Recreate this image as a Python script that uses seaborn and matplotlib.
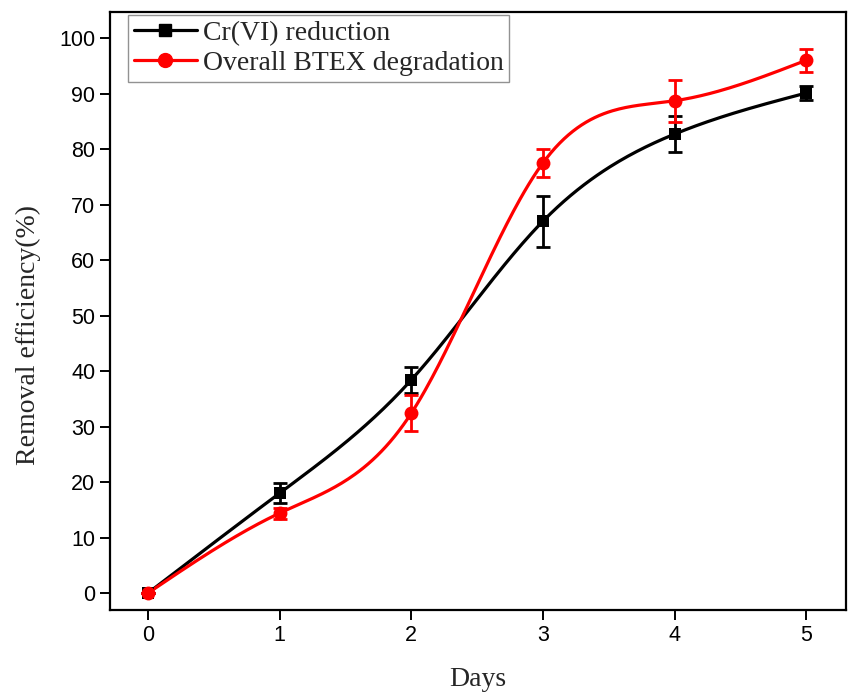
import numpy as np
import pandas as pd
import matplotlib
matplotlib.use("Agg")
import matplotlib.pyplot as plt
from matplotlib.lines import Line2D
import seaborn as sns

days = [0, 1, 2, 3, 4, 5]
cr_mean = [0, 18.0, 38.4, 67.0, 82.7, 90.1]
cr_err = [0, 1.8, 2.4, 4.6, 3.3, 1.2]
btex_mean = [0, 14.4, 32.4, 77.5, 88.7, 96.0]
btex_err = [0, 1.0, 3.2, 2.6, 3.8, 2.1]
labels = ["Cr(VI) reduction", "Overall BTEX degradation"]
colors = ["black", "red"]
markers = ["s", "o"]


def smooth(x, y, n=300):
    # natural cubic spline through the points (like Origin's spline connect)
    x = np.asarray(x, float)
    y = np.asarray(y, float)
    h = np.diff(x)
    m = len(x)
    A = np.zeros((m, m))
    b = np.zeros(m)
    A[0, 0] = A[-1, -1] = 1
    for i in range(1, m - 1):
        A[i, i - 1] = h[i - 1]
        A[i, i] = 2 * (h[i - 1] + h[i])
        A[i, i + 1] = h[i]
        b[i] = 6 * ((y[i + 1] - y[i]) / h[i] - (y[i] - y[i - 1]) / h[i - 1])
    M = np.linalg.solve(A, b)
    xs = np.linspace(x[0], x[-1], n)
    idx = np.clip(np.searchsorted(x, xs) - 1, 0, m - 2)
    t0 = x[idx + 1] - xs
    t1 = xs - x[idx]
    hi = h[idx]
    ys = (M[idx] * t0**3 + M[idx + 1] * t1**3) / (6 * hi) \
        + (y[idx] / hi - M[idx] * hi / 6) * t0 \
        + (y[idx + 1] / hi - M[idx + 1] * hi / 6) * t1
    return xs, ys


sns.set_theme(style="ticks")
plt.rcParams["font.family"] = ["Liberation Serif", "DejaVu Serif"]

fig = plt.figure(figsize=(8.48, 6.97), dpi=100)
ax = fig.add_axes([0.1303, 0.1248, 0.8670, 0.858])

series = [(cr_mean, cr_err), (btex_mean, btex_err)]
for (mean, err), lab, col, mk in zip(series, labels, colors, markers):
    xs, ys = smooth(days, mean)
    curve = pd.DataFrame({"x": xs, "y": ys})
    sns.lineplot(data=curve, x="x", y="y", ax=ax, color=col, linewidth=2.3, zorder=2)
    ax.errorbar(days, mean, yerr=err, fmt="none", ecolor=col, elinewidth=2,
                capsize=4.7, capthick=2, zorder=3)
    pts = pd.DataFrame({"x": days, "y": mean})
    sns.scatterplot(data=pts, x="x", y="y", ax=ax, color=col, marker=mk,
                    s=100 if mk == "o" else 70, edgecolor=col, linewidth=0, zorder=4)

ax.set_xlim(-0.285, 5.30)
ax.set_ylim(-3.06, 104.7)
ax.set_xticks(days)
ax.set_yticks(range(0, 101, 10))
ax.tick_params(axis="both", direction="out", length=7, width=1.4, pad=4,
               labelsize=15.5, colors="black")
for t in ax.get_xticklabels() + ax.get_yticklabels():
    t.set_fontfamily("Liberation Sans")
for s in ax.spines.values():
    s.set_linewidth(1.6)
    s.set_color("black")

ax.set_xlabel("Days", fontsize=20, labelpad=15)
ax.set_ylabel("Removal efficiency(%)", fontsize=20)
ax.yaxis.set_label_coords(-0.095, 0.46)

handles = [Line2D([0], [0], color=c, lw=2.3, marker=m, markersize=10 if m == "o" else 8.5)
           for c, m in zip(colors, markers)]
leg = ax.legend(handles, labels, loc="upper left", bbox_to_anchor=(0.02, 1.0),
                fontsize=20, frameon=True, fancybox=False, borderpad=0.2,
                handlelength=2.3, handletextpad=0.2, labelspacing=0.18, borderaxespad=0.1)
leg.get_frame().set_edgecolor("#777777")
leg.get_frame().set_linewidth(1.0)

fig.savefig("out.png", dpi=100)
